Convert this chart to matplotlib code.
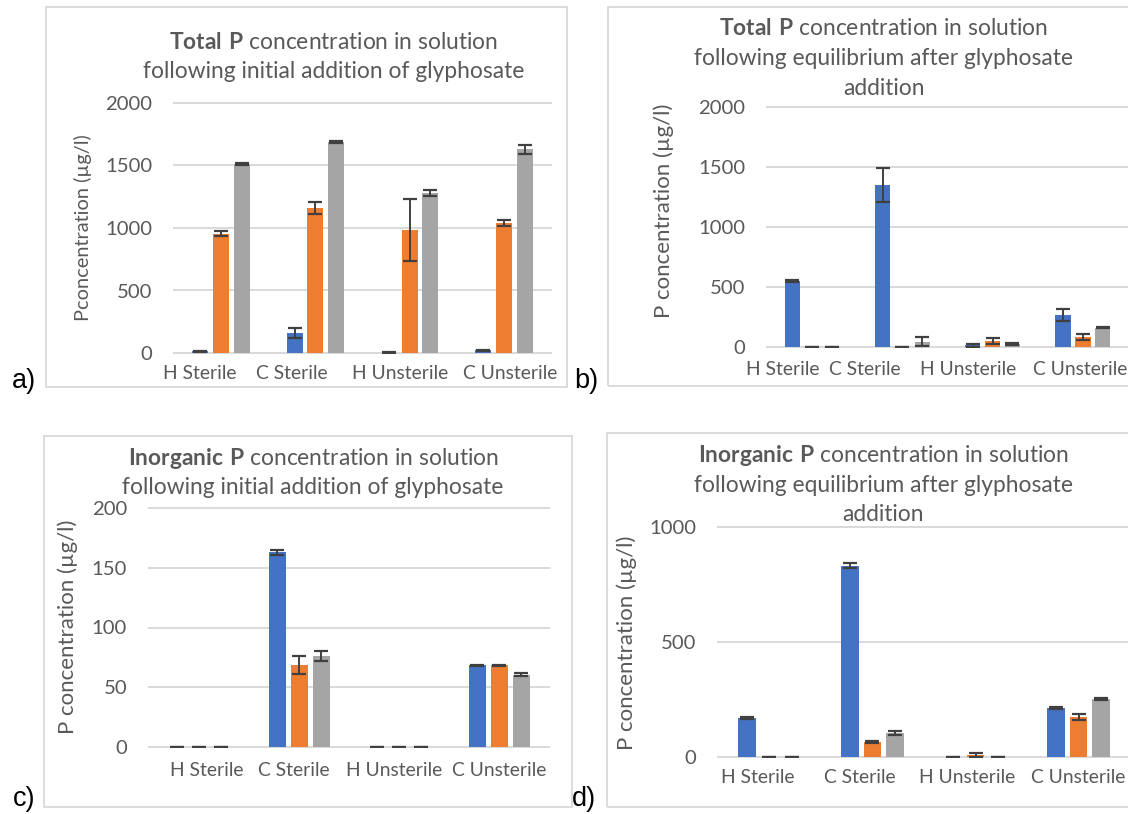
import matplotlib
matplotlib.use("Agg")
import matplotlib.pyplot as plt
from matplotlib.patches import Rectangle
import numpy as np

plt.rcParams["font.family"] = ["Lato", "DejaVu Sans"]
plt.rcParams["mathtext.fontset"] = "custom"
plt.rcParams["mathtext.rm"] = "Lato"
plt.rcParams["mathtext.bf"] = "Lato:bold"

categories = ["H Sterile", "C Sterile", "H Unsterile", "C Unsterile"]

# a) Total P, kurz nach Zugabe von Glyphosat
a_blue = [12, 160, 2, 20]
a_blue_err = [4, 40, 2, 5]
a_orange = [952, 1160, 984, 1040]
a_orange_err = [20, 45, 245, 25]
a_gray = [1512, 1688, 1280, 1630]
a_gray_err = [8, 5, 25, 38]

# b) Total P, nach Gleichgewicht
b_blue = [552, 1350, 16, 267]
b_blue_err = [10, 140, 12, 50]
b_orange = [2, 3, 54, 82]
b_orange_err = [0, 0, 25, 27]
b_gray = [2, 44, 25, 162]
b_gray_err = [0, 38, 5, 6]

# c) Inorganic P, kurz nach Zugabe
c_blue = [0, 163, 0, 68.5]
c_blue_err = [0, 2, 0, 0.5]
c_orange = [0, 68.5, 0, 68.5]
c_orange_err = [0, 7.5, 0, 0.5]
c_gray = [0, 76, 0, 60.5]
c_gray_err = [0, 4, 0, 1.5]

# d) Inorganic P, nach Gleichgewicht
d_blue = [170, 832, 1, 213]
d_blue_err = [4, 12, 0, 4]
d_orange = [1, 65, 8, 174]
d_orange_err = [0, 6, 8, 13]
d_gray = [1, 104, 1, 252]
d_gray_err = [0, 9, 0, 5]

BLUE = "#4472C4"
ORANGE = "#ED7D31"
GRAY = "#A5A5A5"
TXT = "#595959"
GRID = "#D9D9D9"

W, H = 1128, 814

panels = [
    dict(
        tag="a)", tag_xy=(12, 388),
        box=(46, 7, 567, 387),
        axes=(174, 103, 551, 353),
        ymax=2000, yticks=[0, 500, 1000, 1500, 2000],
        title_bold="Total P", title_x=334,
        title=[" concentration in solution", "following initial addition of glyphosate"],
        title_y=[49, 78],
        ylabel="Pconcentration (µg/l)", ylabel_xy=(83, 228), ylabel_size=14.4,
        lab_dx=[-21, -24, -10, 6], lab_dy=26,
        series=[(a_blue, a_blue_err, BLUE), (a_orange, a_orange_err, ORANGE),
                (a_gray, a_gray_err, GRAY)],
    ),
    dict(
        tag="b)", tag_xy=(574, 388),
        box=(608, 7, 1140, 386),
        axes=(767, 107, 1128, 347),
        ymax=2000, yticks=[0, 500, 1000, 1500, 2000],
        title_bold="Total P", title_x=884,
        title=[" concentration in solution", "following equilibrium after glyphosate", "addition"],
        title_y=[35, 65, 95],
        ylabel="P concentration (µg/l)", ylabel_xy=(664, 211), ylabel_size=16,
        lab_dx=[-29, -38, -25, -3], lab_dy=28,
        series=[(b_blue, b_blue_err, BLUE), (b_orange, b_orange_err, ORANGE),
                (b_gray, b_gray_err, GRAY)],
    ),
    dict(
        tag="c)", tag_xy=(13, 806),
        box=(44, 436, 572, 807),
        axes=(149, 508, 549, 747),
        ymax=200, yticks=[0, 50, 100, 150, 200],
        title_bold="Inorganic P", title_x=313,
        title=[" concentration in solution", "following initial addition of glyphosate"],
        title_y=[465, 494],
        ylabel="P concentration (µg/l)", ylabel_xy=(68, 627), ylabel_size=16,
        lab_dx=[8, -5, -5, 0], lab_dy=29,
        series=[(c_blue, c_blue_err, BLUE), (c_orange, c_orange_err, ORANGE),
                (c_gray, c_gray_err, GRAY)],
    ),
    dict(
        tag="d)", tag_xy=(572, 806),
        box=(607, 433, 1140, 807),
        axes=(718, 527, 1130, 757),
        ymax=1000, yticks=[0, 500, 1000],
        title_bold="Inorganic P", title_x=883,
        title=[" concentration in solution", "following equilibrium after glyphosate", "addition"],
        title_y=[462, 491.5, 521],
        ylabel="P concentration (µg/l)", ylabel_xy=(627, 643), ylabel_size=16,
        lab_dx=[-12, -13, -8, 0], lab_dy=26,
        series=[(d_blue, d_blue_err, BLUE), (d_orange, d_orange_err, ORANGE),
                (d_gray, d_gray_err, GRAY)],
    ),
]


def fx(x):
    return x / W


def fy(y):
    return 1 - y / H


fig = plt.figure(figsize=(W / 100, H / 100), dpi=100)

x = np.arange(len(categories))
offset = 0.22
bar_w = 0.17

for p in panels:
    # Rahmen um das Diagramm
    x0, y0, x1, y1 = p["box"]
    fig.add_artist(Rectangle((fx(x0), fy(y1)), fx(x1 - x0), (y1 - y0) / H,
                             transform=fig.transFigure, fill=False,
                             edgecolor=GRID, lw=1.3))

    ax0, ay0, ax1, ay1 = p["axes"]
    ax = fig.add_axes([fx(ax0), fy(ay1), fx(ax1 - ax0), (ay1 - ay0) / H])
    ax.set_xlim(-0.5, 3.5)
    ax.set_ylim(0, p["ymax"])
    for s in ax.spines.values():
        s.set_visible(False)
    ax.set_xticks([])
    ax.set_yticks(p["yticks"])
    ax.tick_params(axis="y", length=0, pad=15.8, labelsize=14.6, labelcolor=TXT)
    for t in p["yticks"]:
        ax.axhline(t, color=GRID, lw=1.4, zorder=0, clip_on=False)

    for k, (vals, errs, col) in enumerate(p["series"]):
        ax.bar(x + (k - 1) * offset, vals, bar_w, yerr=errs, color=col,
               capsize=5, zorder=3,
               error_kw=dict(ecolor="#404040", elinewidth=1.4, capthick=1.6, zorder=4))

    for i, lab in enumerate(categories):
        ax.annotate(lab, xy=(i, 0), xycoords=("data", "axes fraction"),
                    xytext=(p["lab_dx"][i], -p["lab_dy"]), textcoords="offset pixels",
                    ha="center", va="baseline", fontsize=13.9, color=TXT,
                    annotation_clip=False)

    # Titel: erste Zeile teilweise fett
    bold = p["title_bold"].replace(" ", r"\ ")
    lines = [r"$\mathbf{" + bold + "}$" + p["title"][0]] + p["title"][1:]
    for line, ty in zip(lines, p["title_y"]):
        fig.text(fx(p["title_x"]), fy(ty), line, ha="center", va="baseline",
                 fontsize=16.4, color=TXT)

    lx, ly = p["ylabel_xy"]
    fig.text(fx(lx), fy(ly), p["ylabel"], rotation=90, ha="center", va="center",
             fontsize=p["ylabel_size"], color=TXT)

    tx, ty = p["tag_xy"]
    fig.text(fx(tx), fy(ty), p["tag"], ha="left", va="baseline", fontsize=19.5,
             color="black", family=["Liberation Sans", "DejaVu Sans"])

fig.savefig("out.png", dpi=100)
